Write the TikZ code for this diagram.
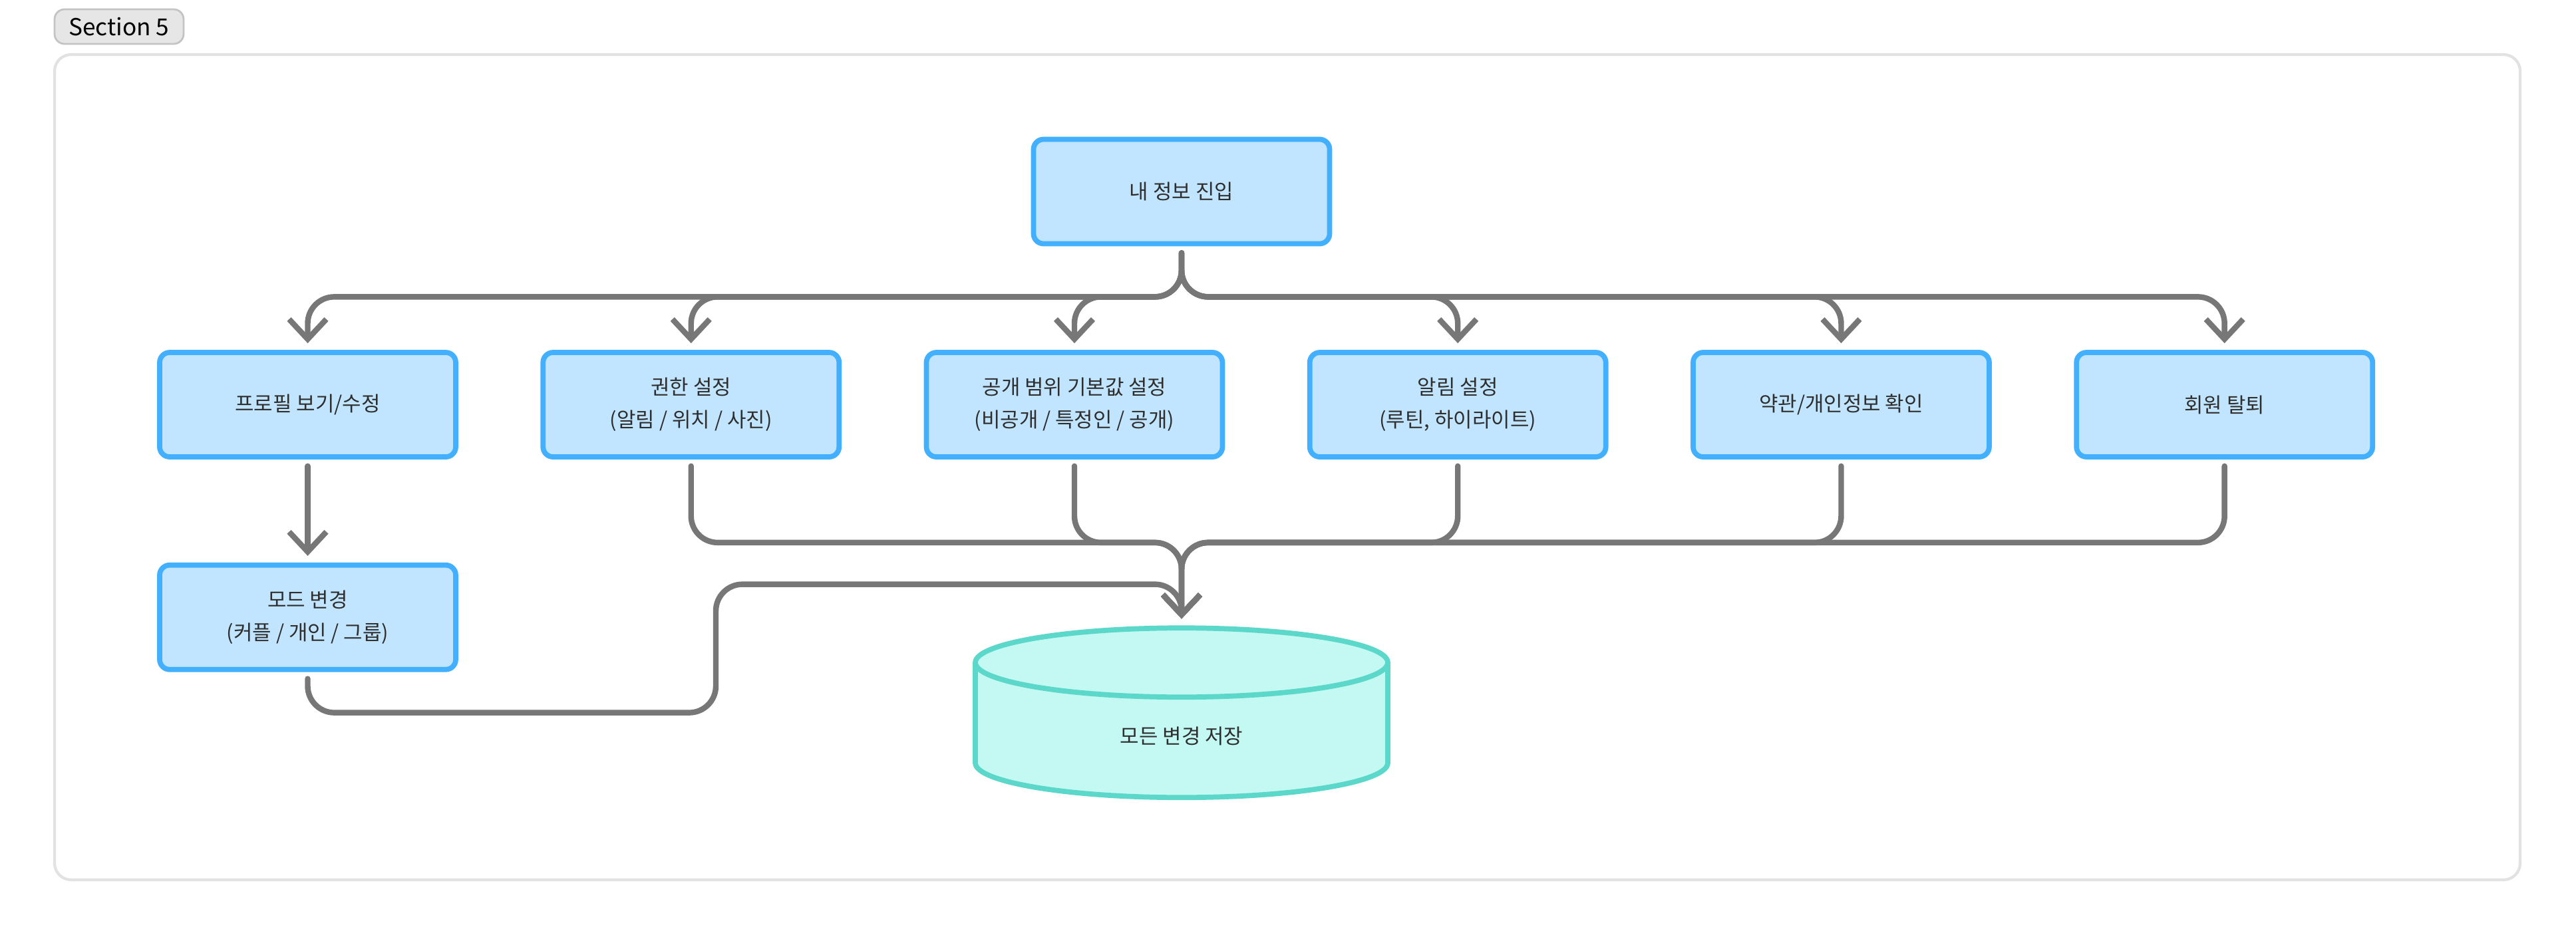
\documentclass[tikz,border=0pt]{standalone}
\usepackage{fontspec}
\setmainfont{Noto Sans CJK KR}
\usetikzlibrary{arrows.meta, positioning, shapes.geometric}

\definecolor{boxblue}{HTML}{C2E5FF}
\definecolor{edgeblue}{HTML}{42AFFF}
\definecolor{storefill}{HTML}{C4F8F3}
\definecolor{storeedge}{HTML}{5CD8CB}
\definecolor{linkgray}{HTML}{777777}
\definecolor{inkgray}{HTML}{2E2E2E}
\definecolor{framegray}{HTML}{E2E2E2}
\definecolor{tagfill}{HTML}{E6E6E6}
\definecolor{tagedge}{HTML}{C4C4C4}

\begin{document}
\begin{tikzpicture}[
        menu/.style={rectangle, rounded corners=0.15cm, draw=edgeblue, fill=boxblue,
            line width=2.2pt, minimum width=4.45cm, minimum height=1.57cm,
            align=center, text=inkgray, font=\fontsize{8.8}{14}\selectfont},
        store/.style={cylinder, shape border rotate=90, aspect=0.5, draw=storeedge,
            fill=storefill, line width=2.2pt, minimum width=6.2cm, minimum height=2.55cm,
            text=inkgray, font=\fontsize{8.8}{14}\selectfont},
        flow/.style={draw=linkgray, line width=2.4pt, rounded corners=0.4cm, line cap=round,
            shorten <=0.1cm, shorten >=0.1cm, -{Straight Barb[length=0.3cm, width=0.56cm]}},
        node distance=1.235cm,
    ]
        \useasboundingbox (0,0) rectangle (38.72,-14.08);

        % Section frame
        \draw[framegray, line width=1.2pt, rounded corners=0.25cm] (0.82,-0.82) rectangle (37.88,-13.23);
        \node[draw=tagedge, fill=tagfill, line width=0.8pt, rounded corners=0.15cm,
            minimum width=1.94cm, minimum height=0.52cm, inner sep=0pt,
            font=\fontsize{10}{12}\selectfont] (tag) at (1.79,-0.40) {Section 5};

        \node[menu] (top) at (17.76,-2.88) {내 정보 진입};
        \node[menu] (prof) at (4.625,-6.085) {프로필 보기/수정};
        \node[menu] (perm) [right=of prof] {권한 설정\\(알림 / 위치 / 사진)};
        \node[menu] (scope) [right=of perm] {공개 범위 기본값 설정\\(비공개 / 특정인 / 공개)};
        \node[menu] (alarm) [right=of scope] {알림 설정\\(루틴, 하이라이트)};
        \node[menu] (terms) [right=of alarm] {약관/개인정보 확인};
        \node[menu] (leave) [right=of terms] {회원 탈퇴};
        \node[menu] (mode) [below=1.55cm of prof] {모드 변경\\(커플 / 개인 / 그룹)};
        \node[store] (save) [below=5.70cm of top] {모든 변경 저장};

        % Fan out from the entry
        \foreach \b in {prof,perm,scope,alarm,terms,leave}
            \draw[flow] (top.south) -- ++(0,-0.76) -| (\b.north);

        \draw[flow] (prof.south) -- (mode.north);

        % Everything ends in the save step
        \foreach \b in {perm,scope,alarm,terms,leave}
            \draw[flow] (\b.south) -- ++(0,-1.25) -| (save.north);
        \draw[flow] (mode.south) -- ++(0,-0.61) -- ++(6.135,0) -- ++(0,1.93) -| (save.north);
    \end{tikzpicture}
\end{document}
